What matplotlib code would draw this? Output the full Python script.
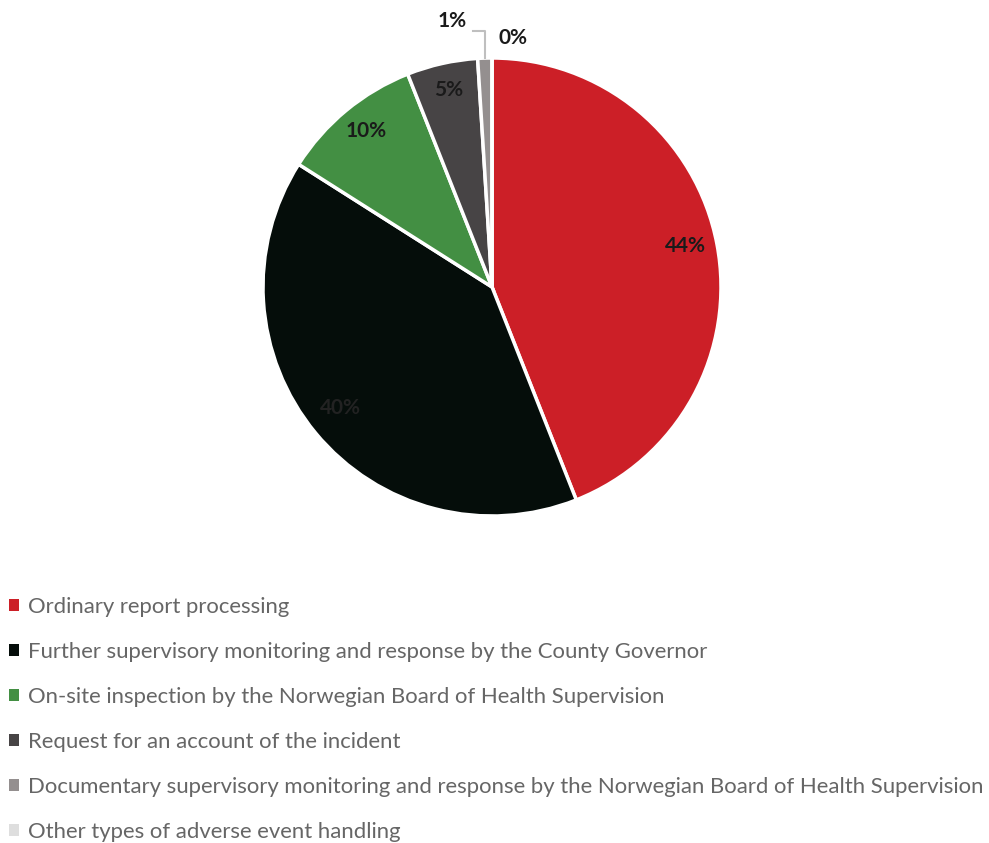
import numpy as np
import matplotlib; matplotlib.use('Agg')
from matplotlib import pyplot as plt
from matplotlib.patches import Patch

############## DATA ################

categories = ['Ordinary report processing',
              'Further supervisory monitoring and response by the County Governor',
              'On-site inspection by the Norwegian Board of Health Supervision',
              'Request for an account of the incident',
              'Documentary supervisory monitoring and response by the Norwegian Board of Health Supervision',
              'Other types of adverse event handling']
shares = [44, 40, 10, 5, 1, 0]
colors = ['#cc1f27', '#050d0a', '#438f43', '#474445', '#948f8f', '#dedede']
label_colors = ['#1a1a1a', '#222222', '#1a1a1a', '#1a1a1a', '#1a1a1a', '#1a1a1a']

plt.rcParams['font.family'] = ['Lato', 'DejaVu Sans']

W, H = 989, 843
fig = plt.figure(figsize=(W / 100, H / 100), dpi=100)

# pie centre (492, 287) px, radius 229 px
cx, cy, r = 492, 287, 229
ax = fig.add_axes([(cx - r) / W, (H - cy - r) / H, 2 * r / W, 2 * r / H])
wedges, _ = ax.pie(shares, colors=colors, startangle=90, counterclock=False,
                   radius=1, wedgeprops=dict(edgecolor='white', linewidth=2.5))
ax.set_xlim(-1, 1)
ax.set_ylim(-1, 1)
ax.set_aspect('equal')
ax.axis('off')

# Percent labels inside the big slices
for w, s, lc in zip(wedges[:4], shares[:4], label_colors[:4]):
    mid = np.deg2rad((w.theta1 + w.theta2) / 2)
    d = 0.86
    ax.text(d * np.cos(mid), d * np.sin(mid) + 0.02, '{}%'.format(s), ha='center',
            va='center', fontsize=15, fontweight='bold', color=lc)

# Small slices get outside labels
w1 = wedges[4]
mid1 = np.deg2rad((w1.theta1 + w1.theta2) / 2)
x1 = np.cos(mid1)
ax.plot([x1, x1, -0.083], [1.0, 1.118, 1.118], color='#bfbfbf', linewidth=1.5,
        clip_on=False)
ax.text(-0.175, 1.16, '{}%'.format(shares[4]), ha='center', va='center',
        fontsize=15, fontweight='bold', color='#1a1a1a')
ax.text(0.092, 1.086, '{}%'.format(shares[5]), ha='center', va='center',
        fontsize=15, fontweight='bold', color='#1a1a1a')

handles = [Patch(facecolor=c, edgecolor='none') for c in colors]
fig.legend(handles, categories, loc='upper left', bbox_to_anchor=(9 / W, 1 - 597 / H),
           frameon=False, fontsize=15.93, labelcolor='#666666',
           handlelength=0.45, handleheight=0.45, handletextpad=0.4,
           labelspacing=1.13, borderaxespad=0, borderpad=0)

plt.savefig('out.png', dpi=100)
